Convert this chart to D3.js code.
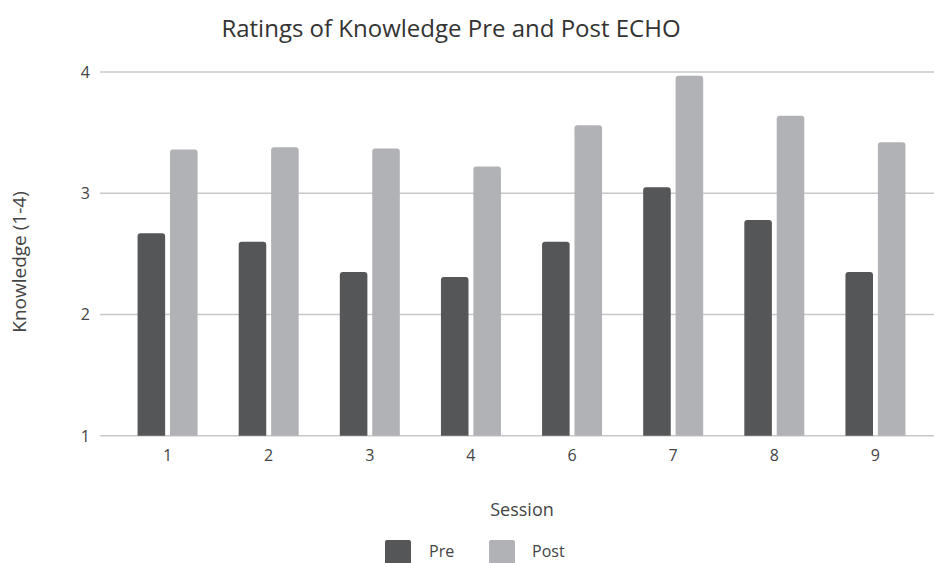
<!DOCTYPE html>
<html>
<head>
<meta charset="utf-8">
<script src="https://cdn.jsdelivr.net/npm/d3@7"></script>
<style>
  body { margin: 0; background: #fff; }
  text { font-family: 'Open Sans', sans-serif; }
</style>
</head>
<body>
<script>
let sessions = ['1', '2', '3', '4', '6', '7', '8', '9']
let preValues = [2.67, 2.60, 2.35, 2.31, 2.60, 3.05, 2.78, 2.35]
let postValues = [3.36, 3.38, 3.37, 3.22, 3.56, 3.97, 3.64, 3.42]
let seriesNames = ['Pre', 'Post']
let seriesColors = ['#555658', '#b1b2b5']
let yTicks = [1, 2, 3, 4]

let width = 934
let height = 563

let svg = d3.select('body')
  .append('svg')
  .attr('width', width)
  .attr('height', height)

let scaleX = d3.scaleBand()
  .domain(sessions)
  .range([117, 926])

let scaleS = d3.scaleBand()
  .domain(seriesNames)
  .range([scaleX.bandwidth() / 2 - 30, scaleX.bandwidth() / 2 + 30])
  .paddingInner(0.15)

let scaleY = d3.scaleLinear()
  .domain([1, 4])
  .range([435.7, 72])

// gridlines
svg.append('g')
  .selectAll('line')
  .data(yTicks)
  .enter()
  .append('line')
  .attr('x1', 100)
  .attr('x2', width)
  .attr('y1', d => scaleY(d))
  .attr('y2', d => scaleY(d))
  .attr('stroke', '#c8c8ca')
  .attr('stroke-width', 1.5)

// y tick labels
svg.append('g')
  .selectAll('text')
  .data(yTicks)
  .enter()
  .append('text')
  .attr('x', 90)
  .attr('y', d => scaleY(d) + 6)
  .attr('text-anchor', 'end')
  .attr('font-size', 16)
  .attr('fill', '#444')
  .text(d => d)

// bars with rounded tops
function barPath(x, y, w, h, r) {
  return 'M' + x + ',' + (y + h) +
    'V' + (y + r) +
    'Q' + x + ',' + y + ' ' + (x + r) + ',' + y +
    'H' + (x + w - r) +
    'Q' + (x + w) + ',' + y + ' ' + (x + w) + ',' + (y + r) +
    'V' + (y + h) + 'Z'
}

let rows = sessions.map((s, i) => ({ session: s, values: [preValues[i], postValues[i]] }))

let groups = svg.append('g')
  .selectAll('g')
  .data(rows)
  .enter()
  .append('g')
  .attr('transform', d => 'translate(' + scaleX(d.session) + ',0)')

groups.selectAll('path')
  .data(d => d.values.map((v, j) => ({ name: seriesNames[j], value: v, color: seriesColors[j] })))
  .enter()
  .append('path')
  .attr('d', d => barPath(scaleS(d.name), scaleY(d.value), scaleS.bandwidth(), scaleY(1) - scaleY(d.value), 3))
  .attr('fill', d => d.color)

// x tick labels
svg.append('g')
  .selectAll('text')
  .data(sessions)
  .enter()
  .append('text')
  .attr('x', d => scaleX(d) + scaleX.bandwidth() / 2)
  .attr('y', 461)
  .attr('text-anchor', 'middle')
  .attr('font-size', 16)
  .attr('fill', '#444')
  .text(d => d)

// title
svg.append('text')
  .attr('x', 451)
  .attr('y', 37)
  .attr('text-anchor', 'middle')
  .attr('font-size', 24)
  .attr('fill', '#333')
  .text('Ratings of Knowledge Pre and Post ECHO')

// axis titles
svg.append('text')
  .attr('x', 522)
  .attr('y', 516)
  .attr('text-anchor', 'middle')
  .attr('font-size', 18)
  .attr('fill', '#444')
  .text('Session')

svg.append('text')
  .attr('transform', 'translate(26,262) rotate(-90)')
  .attr('text-anchor', 'middle')
  .attr('font-size', 19)
  .attr('fill', '#444')
  .text('Knowledge (1-4)')

// legend
let legendX = [385, 489]
let legend = svg.append('g')
  .selectAll('g')
  .data(seriesNames)
  .enter()
  .append('g')
  .attr('transform', (d, i) => 'translate(' + legendX[i] + ',540)')

legend.append('rect')
  .attr('width', 26)
  .attr('height', 26)
  .attr('rx', 2)
  .attr('fill', (d, i) => seriesColors[i])

legend.append('text')
  .attr('x', (d, i) => i === 0 ? 44 : 43)
  .attr('y', 17)
  .attr('font-size', 16)
  .attr('fill', '#444')
  .text(d => d)
</script>
</body>
</html>
